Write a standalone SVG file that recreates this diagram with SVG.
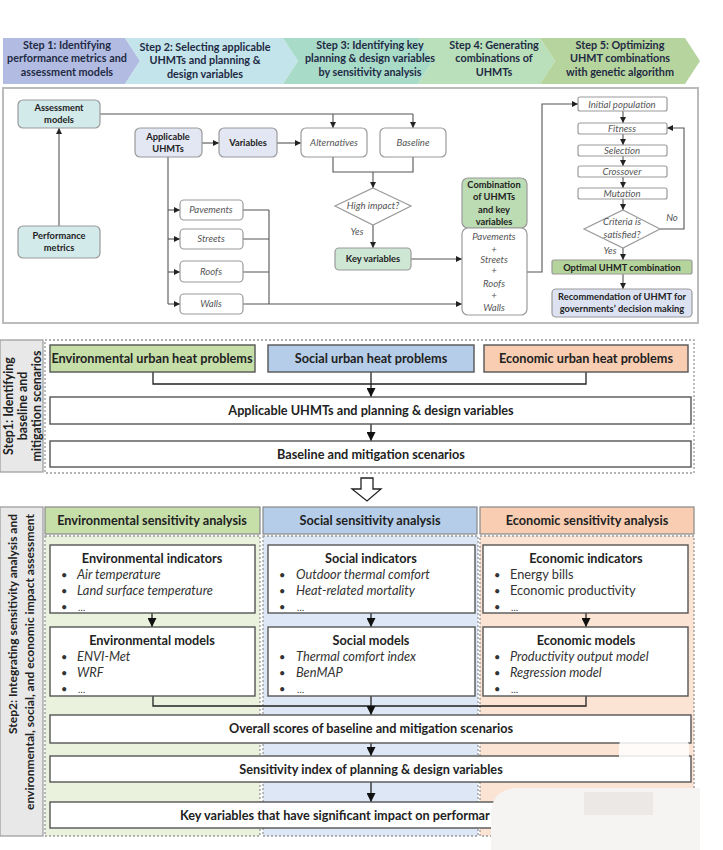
<svg xmlns="http://www.w3.org/2000/svg" width="723" height="850" viewBox="0 0 723 850">
<defs>
<marker id="ah" viewBox="0 0 10 10" refX="10" refY="5" markerWidth="6" markerHeight="6" orient="auto" markerUnits="userSpaceOnUse"><path d="M0,0 L10,5 L0,10 z" fill="#222"/></marker>
<marker id="ahb" viewBox="0 0 10 10" refX="10" refY="5" markerWidth="9" markerHeight="9" orient="auto" markerUnits="userSpaceOnUse"><path d="M0,0 L10,5 L0,10 z" fill="#111"/></marker>
<style>
text{font-family:Lato,"Liberation Sans",sans-serif;fill:#222}
.st{font-size:10.8px;font-weight:bold;text-anchor:middle;fill:#1f2a44}
.nb{font-size:9.3px;font-weight:bold;text-anchor:middle;fill:#222}
.ni{font-size:9.6px;font-style:italic;text-anchor:middle;fill:#555}
.n{stroke:#9a9a9a;stroke-width:1.2}
.w{fill:#fff}
.c{fill:none;stroke:#555;stroke-width:1.1}
.ca{fill:none;stroke:#555;stroke-width:1.1;marker-end:url(#ah)}
.cb{fill:none;stroke:#222;stroke-width:1.3}
.cba{fill:none;stroke:#222;stroke-width:1.3;marker-end:url(#ahb)}
.bx{stroke:#555;stroke-width:1.4}
.hb{font-size:12.7px;font-weight:bold;text-anchor:middle;fill:#222}
.bt{font-size:12.7px;font-weight:bold;text-anchor:middle;fill:#222}
.li{font-size:12.8px;font-style:italic;fill:#333}
.lr{font-size:12.8px;fill:#333}
.el{font-size:9.5px;fill:#333}
.bu{font-size:11px;fill:#333}
.dot{fill:none;stroke:#999;stroke-width:1.3;stroke-dasharray:2,2}
.vl{font-size:12.4px;font-weight:bold;text-anchor:middle;fill:#222}
.vl2{font-size:12px;font-weight:bold;text-anchor:end;fill:#222}
</style>
</defs>
<rect width="723" height="850" fill="#fff"/>

<!-- Banner -->
<g id="banner">
<polygon points="3,38 125,38 140,61 125,84 3,84" fill="#b2bce2"/>
<polygon points="125,38 283,38 298,61 283,84 125,84 140,61" fill="#c2e4ea"/>
<polygon points="283,38 418,38 433,61 418,84 283,84 298,61" fill="#a9dbc9"/>
<polygon points="418,38 540,38 555,61 540,84 418,84 433,61" fill="#b9e0ba"/>
<polygon points="540,38 685,38 700,61 685,84 540,84 555,61" fill="#b6d49d"/>
<text class="st" x="67" y="49">Step 1: Identifying</text>
<text class="st" x="67" y="62">performance metrics and</text>
<text class="st" x="67" y="76">assessment models</text>
<text class="st" x="205" y="51">Step 2: Selecting applicable</text>
<text class="st" x="205" y="64">UHMTs and planning &amp;</text>
<text class="st" x="205" y="78">design variables</text>
<text class="st" x="370" y="49">Step 3: Identifying key</text>
<text class="st" x="370" y="62">planning &amp; design variables</text>
<text class="st" x="370" y="76">by sensitivity analysis</text>
<text class="st" x="494" y="49">Step 4: Generating</text>
<text class="st" x="494" y="62">combinations of</text>
<text class="st" x="494" y="76">UHMTs</text>
<text class="st" x="620" y="49">Step 5: Optimizing</text>
<text class="st" x="620" y="62">UHMT combinations</text>
<text class="st" x="620" y="76">with genetic algorithm</text>
</g>

<!-- Top panel -->
<rect x="3" y="88" width="695" height="235" fill="#fff" stroke="#bbb" stroke-width="2"/>

<g id="connectors-top">
<path class="ca" d="M59,226 V128"/>
<path class="c" d="M100,114 H413"/>
<path class="ca" d="M333,114 V128"/>
<path class="ca" d="M413,114 V128"/>
<path class="ca" d="M202,143 H219"/>
<path class="ca" d="M277,143 H301"/>
<path class="c" d="M168,157 V304"/>
<path class="ca" d="M168,210 H180"/>
<path class="ca" d="M168,239 H180"/>
<path class="ca" d="M168,272 H180"/>
<path class="ca" d="M168,304 H180"/>
<path class="c" d="M243,210 H269 M243,239 H269 M243,272 H269 M269,210 V304"/>
<path class="ca" d="M243,304 H462"/>
<path class="c" d="M333,157 V172 H413 V157"/>
<path class="ca" d="M373,172 V188"/>
<path class="ca" d="M373,225 V248"/>
<path class="ca" d="M411,259 H462"/>
<path class="ca" d="M527,272 H542 V104 H578"/>
<path class="ca" d="M623,111 V123"/>
<path class="ca" d="M623,134 V145"/>
<path class="ca" d="M623,156 V166"/>
<path class="ca" d="M623,177 V188"/>
<path class="ca" d="M623,199 V210"/>
<path class="ca" d="M660,229 H684 V128 H667"/>
<path class="ca" d="M623,248 V260"/>
<path class="ca" d="M623,274 V289"/>
</g>

<g id="assessment"><rect class="n" x="18" y="100" width="82" height="28" rx="5" fill="#d3eaea"/><text class="nb" x="59" y="111">Assessment</text><text class="nb" x="59" y="123">models</text></g>
<g id="performance"><rect class="n" x="18" y="226" width="82" height="32" rx="5" fill="#d3eaea"/><text class="nb" x="59" y="239">Performance</text><text class="nb" x="59" y="251">metrics</text></g>
<g id="applicable"><rect class="n" x="135" y="128" width="67" height="29" rx="5" fill="#e3e7f4"/><text class="nb" x="168" y="140">Applicable</text><text class="nb" x="168" y="152">UHMTs</text></g>
<g id="variables"><rect class="n" x="219" y="128" width="58" height="29" rx="5" fill="#e3e7f4"/><text class="nb" x="248" y="146">Variables</text></g>
<g id="alternatives"><rect class="n w" x="301" y="128" width="66" height="29" rx="5"/><text class="ni" x="334" y="146">Alternatives</text></g>
<g id="baseline"><rect class="n w" x="380" y="128" width="66" height="29" rx="5"/><text class="ni" x="413" y="146">Baseline</text></g>
<g id="pavements"><rect class="n w" x="180" y="200" width="63" height="20" rx="4"/><text class="ni" x="211" y="213">Pavements</text></g>
<g id="streets"><rect class="n w" x="180" y="229" width="63" height="20" rx="4"/><text class="ni" x="211" y="242">Streets</text></g>
<g id="roofs"><rect class="n w" x="180" y="261" width="63" height="21" rx="4"/><text class="ni" x="211" y="275">Roofs</text></g>
<g id="walls"><rect class="n w" x="180" y="294" width="63" height="20" rx="4"/><text class="ni" x="211" y="307">Walls</text></g>
<g id="highimpact"><polygon class="n w" points="373,188 411,206 373,225 335,206"/><text class="ni" x="373" y="209">High impact?</text><text class="ni" x="357" y="235">Yes</text></g>
<g id="keyvars"><rect class="n" x="335" y="248" width="76" height="22" rx="4" fill="#cde7d4"/><text class="nb" x="373" y="262">Key variables</text></g>
<g id="combination"><rect class="n" x="462" y="178" width="65" height="50" rx="6" fill="#bcdcb3"/><text class="nb" x="494" y="188">Combination</text><text class="nb" x="494" y="200">of UHMTs</text><text class="nb" x="494" y="213">and key</text><text class="nb" x="494" y="225">variables</text></g>
<g id="combolist"><rect class="n w" x="462" y="228" width="65" height="87" rx="6"/><text class="ni" x="494" y="240">Pavements</text><text class="ni" x="494" y="253">+</text><text class="ni" x="494" y="263">Streets</text><text class="ni" x="494" y="274">+</text><text class="ni" x="494" y="287">Roofs</text><text class="ni" x="494" y="299">+</text><text class="ni" x="494" y="311">Walls</text></g>
<g id="initpop"><rect class="n w" x="578" y="97" width="89" height="14" rx="2"/><text class="ni" x="622" y="107.5">Initial population</text></g>
<g id="fitness"><rect class="n w" x="578" y="123" width="89" height="11" rx="2"/><text class="ni" x="622" y="132">Fitness</text></g>
<g id="selection"><rect class="n w" x="578" y="145" width="89" height="11" rx="2"/><text class="ni" x="622" y="154">Selection</text></g>
<g id="crossover"><rect class="n w" x="578" y="166" width="89" height="11" rx="2"/><text class="ni" x="622" y="175">Crossover</text></g>
<g id="mutation"><rect class="n w" x="578" y="188" width="89" height="11" rx="2"/><text class="ni" x="622" y="197">Mutation</text></g>
<g id="criteria"><polygon class="n w" points="623,210 660,229 623,248 584,229"/><text class="ni" x="622" y="225">Criteria is</text><text class="ni" x="622" y="238">satisfied?</text><text class="ni" x="672" y="221">No</text><text class="ni" x="610" y="254">Yes</text></g>
<g id="optimal"><rect class="n" x="552" y="260" width="140" height="14" rx="2" fill="#b4d49b"/><text class="nb" x="622" y="270.5">Optimal UHMT combination</text></g>
<g id="recommend"><rect class="n" x="552" y="289" width="140" height="28" rx="4" fill="#dce2f2"/><text class="nb" x="622" y="300">Recommendation of UHMT for</text><text class="nb" x="622" y="312">governments’ decision making</text></g>

<!-- Step 1 section -->
<g id="step1-label"><rect x="0" y="340" width="43" height="132" fill="#e8e8e8" stroke="#999" stroke-width="1.2"/>
<g transform="translate(22,406) rotate(-90)"><text class="vl" x="0" y="-9.5">Step1:  Identifying</text><text class="vl" x="0" y="4.5">baseline and</text><text class="vl" x="0" y="18.5">mitigation scenarios</text></g></g>
<rect class="dot" x="45" y="340" width="649" height="133"/>
<g id="connectors-step1">
<path class="cb" d="M153,372 V384 H586 V372"/>
<path class="cba" d="M371,372 V397"/>
<path class="cba" d="M371,424 V441"/>
</g>
<g id="env-problem"><rect class="bx" x="50" y="345" width="205" height="27" fill="#c6dfa9"/><text class="hb" x="152" y="363">Environmental urban heat problems</text></g>
<g id="soc-problem"><rect class="bx" x="268" y="345" width="206" height="27" fill="#b5cde9"/><text class="hb" x="371" y="363">Social urban heat problems</text></g>
<g id="eco-problem"><rect class="bx" x="484" y="345" width="204" height="27" fill="#f8cdb1"/><text class="hb" x="586" y="363">Economic urban heat problems</text></g>
<g id="applicable-vars"><rect class="bx w" x="50" y="397" width="641" height="27"/><text class="bt" x="371" y="415">Applicable UHMTs and planning &amp; design variables</text></g>
<g id="baseline-scen"><rect class="bx w" x="50" y="441" width="641" height="26"/><text class="bt" x="371" y="459">Baseline and mitigation scenarios</text></g>

<!-- hollow arrow -->
<g id="big-arrow"><polygon points="361,478 373,478 373,489 381,489 367,501 352,489 361,489" fill="#fff" stroke="#222" stroke-width="1.3"/></g>

<!-- Step 2 section -->
<g id="step2-label"><rect x="0" y="507" width="43" height="329" fill="#e8e8e8" stroke="#999" stroke-width="1.2"/>
<g transform="translate(21,671) rotate(-90)"><text class="vl2" x="157" y="-4.5">Step2: Integrating sensitivity analysis and</text><text class="vl2" x="157" y="12.5">environmental, social, and economic impact assessment</text></g></g>
<rect x="45" y="536" width="215" height="300" fill="#eaf2de"/>
<rect x="263" y="536" width="215" height="300" fill="#dee7f5"/>
<rect x="480" y="536" width="214" height="300" fill="#fbe4d4"/>
<rect class="dot" x="45" y="536" width="215" height="300"/>
<rect class="dot" x="263" y="536" width="215" height="300"/>
<rect class="dot" x="480" y="536" width="214" height="300"/>
<g id="env-head"><rect x="45" y="507" width="215" height="27" fill="#c6dfa9" stroke="#888" stroke-width="1.2"/><text class="hb" x="152" y="525">Environmental sensitivity analysis</text></g>
<g id="soc-head"><rect x="263" y="507" width="214" height="27" fill="#b5cde9" stroke="#888" stroke-width="1.2"/><text class="hb" x="370" y="525">Social sensitivity analysis</text></g>
<g id="eco-head"><rect x="480" y="507" width="214" height="27" fill="#f8cdb1" stroke="#888" stroke-width="1.2"/><text class="hb" x="587" y="525">Economic sensitivity analysis</text></g>

<g id="connectors-step2">
<path class="cba" d="M152,613 V627"/>
<path class="cba" d="M371,613 V627"/>
<path class="cba" d="M586,613 V627"/>
<path class="cb" d="M153,696 V706 H586 V696"/>
<path class="cba" d="M371,696 V715"/>
<path class="cba" d="M371,743 V756"/>
<path class="cba" d="M371,782 V802"/>
</g>

<g id="env-ind"><rect class="bx w" x="50" y="545" width="205" height="68"/><text class="bt" x="152" y="563">Environmental indicators</text>
<text class="bu" x="61" y="579">•</text><text class="li" x="77" y="579">Air temperature</text>
<text class="bu" x="61" y="595">•</text><text class="li" x="77" y="595">Land surface temperature</text>
<text class="bu" x="61" y="611">•</text><text class="el" x="78" y="611">…</text></g>
<g id="soc-ind"><rect class="bx w" x="268" y="545" width="207" height="68"/><text class="bt" x="371" y="563">Social indicators</text>
<text class="bu" x="279" y="579">•</text><text class="li" x="296" y="579">Outdoor thermal comfort</text>
<text class="bu" x="279" y="595">•</text><text class="li" x="296" y="595">Heat-related mortality</text>
<text class="bu" x="279" y="611">•</text><text class="el" x="297" y="611">…</text></g>
<g id="eco-ind"><rect class="bx w" x="483" y="545" width="205" height="68"/><text class="bt" x="586" y="563">Economic indicators</text>
<text class="bu" x="494" y="579">•</text><text class="lr" x="510" y="579">Energy bills</text>
<text class="bu" x="494" y="595">•</text><text class="lr" x="510" y="595">Economic productivity</text>
<text class="bu" x="494" y="611">•</text><text class="el" x="511" y="611">…</text></g>

<g id="env-mod"><rect class="bx w" x="50" y="627" width="205" height="69"/><text class="bt" x="152" y="645">Environmental models</text>
<text class="bu" x="61" y="661">•</text><text class="li" x="77" y="661">ENVI-Met</text>
<text class="bu" x="61" y="677">•</text><text class="li" x="77" y="677">WRF</text>
<text class="bu" x="61" y="693">•</text><text class="el" x="78" y="693">…</text></g>
<g id="soc-mod"><rect class="bx w" x="268" y="627" width="207" height="69"/><text class="bt" x="371" y="645">Social models</text>
<text class="bu" x="279" y="661">•</text><text class="li" x="296" y="661">Thermal comfort index</text>
<text class="bu" x="279" y="677">•</text><text class="li" x="296" y="677">BenMAP</text>
<text class="bu" x="279" y="693">•</text><text class="el" x="297" y="693">…</text></g>
<g id="eco-mod"><rect class="bx w" x="483" y="627" width="205" height="69"/><text class="bt" x="586" y="645">Economic models</text>
<text class="bu" x="494" y="661">•</text><text class="li" x="510" y="661">Productivity output model</text>
<text class="bu" x="494" y="677">•</text><text class="li" x="510" y="677">Regression model</text>
<text class="bu" x="494" y="693">•</text><text class="el" x="511" y="693">…</text></g>

<g id="overall"><rect class="bx w" x="50" y="715" width="641" height="28"/><text class="bt" x="371" y="733">Overall scores of baseline and mitigation scenarios</text></g>
<g id="sensitivity"><rect class="bx w" x="50" y="756" width="641" height="26"/><text class="bt" x="371" y="774">Sensitivity index of planning &amp; design variables</text></g>
<g id="keyvars2"><rect class="bx w" x="50" y="802" width="641" height="26"/><text class="bt" x="180" y="820" style="text-anchor:start">Key variables that have significant impact on performar</text></g>

<!-- overlay blobs -->
<path d="M520,788 H700 V850 H491 V815 Q491,788 520,788 Z" fill="#f6f4f2"/>
<rect x="619" y="738" width="70" height="40" rx="8" fill="#fff" opacity="0.85"/>
<rect x="584" y="792" width="69" height="23" fill="#ebe8e6"/>
</svg>
